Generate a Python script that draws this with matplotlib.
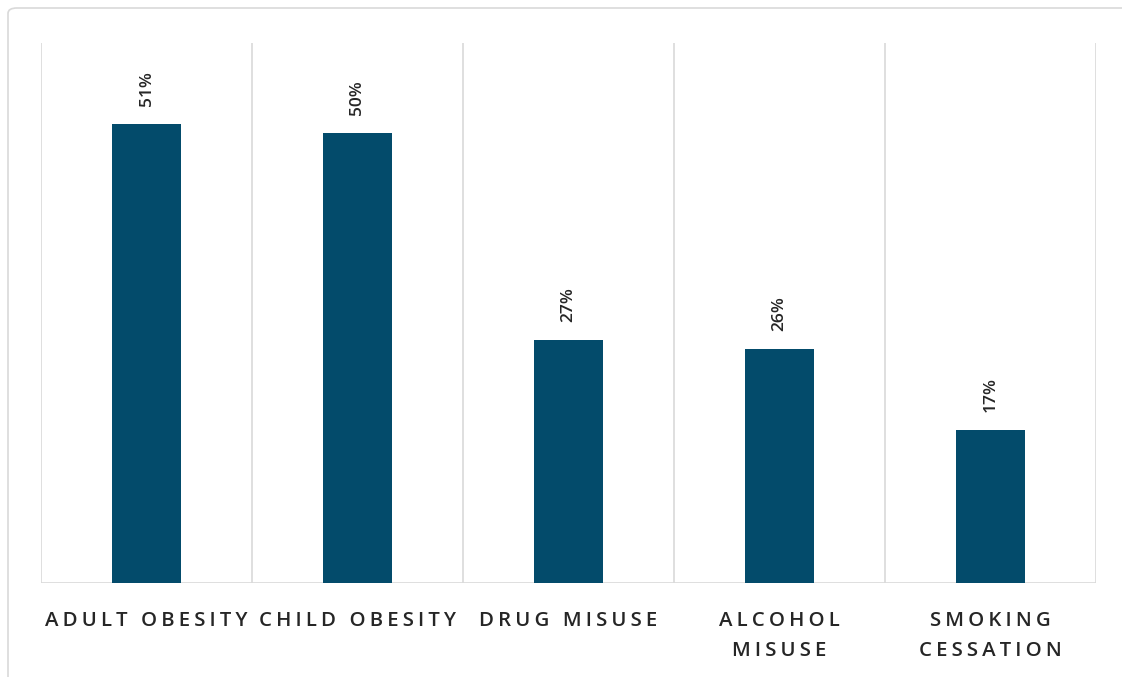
import matplotlib
matplotlib.use("Agg")
import matplotlib.pyplot as plt
from matplotlib.patches import FancyBboxPatch

categories = ["ADULT OBESITY", "CHILD OBESITY", "DRUG MISUSE", "ALCOHOL\nMISUSE", "SMOKING\nCESSATION"]
values = [51, 50, 27, 26, 17]
value_labels = ["51%", "50%", "27%", "26%", "17%"]

BAR_COLOR = "#034b6b"
TEXT_COLOR = "#262626"
GRID_COLOR = "#d9d9d9"
FONT = ["Open Sans", "DejaVu Sans"]

W, H = 1122, 677
fig = plt.figure(figsize=(W / 100, H / 100), dpi=100)
fig.patch.set_facecolor("white")

# outer chart frame
frame = FancyBboxPatch((8 / W, -0.2), 1.2, 1 - 8 / H + 0.2,
                       boxstyle="round,pad=0,rounding_size=0.008",
                       transform=fig.transFigure, facecolor="white",
                       edgecolor="#d9d9d9", linewidth=1.2, zorder=-5)
fig.patches.append(frame)

ax = fig.add_axes([41 / W, 1 - 583 / H, (1096 - 41) / W, (583 - 43) / H])
ax.set_zorder(5)
ax.set_facecolor("none")

x = list(range(len(categories)))
bars = ax.bar(x, values, width=0.33, color=BAR_COLOR, zorder=3)

ax.set_xlim(-0.5, len(categories) - 0.5)
ax.set_ylim(0, 60)

# vertical separators between categories
for b in [i - 0.5 for i in range(len(categories) + 1)]:
    ax.axvline(b, color=GRID_COLOR, linewidth=1.2, zorder=1)
ax.axhline(0, color=GRID_COLOR, linewidth=1.2, zorder=2)

for s in ax.spines.values():
    s.set_visible(False)
ax.set_yticks([])

def spaced(s):
    return "\n".join("\u2009".join(ch for ch in line) for line in s.split("\n"))

ax.set_xticks(x)
ax.set_xticklabels([spaced(c) for c in categories], fontsize=14.7,
                   family=FONT, fontweight="semibold", color=TEXT_COLOR,
                   linespacing=1.68, va="top")
ax.tick_params(axis="x", length=0, pad=20)

for rect, lab in zip(bars, value_labels):
    ax.annotate(lab, (rect.get_x() + rect.get_width() / 2, rect.get_height()),
                xytext=(0, 13), textcoords="offset points", rotation=90,
                ha="center", va="bottom", fontsize=12.5, fontweight="semibold",
                family=FONT, color=TEXT_COLOR)

fig.savefig("out.png", dpi=100)
